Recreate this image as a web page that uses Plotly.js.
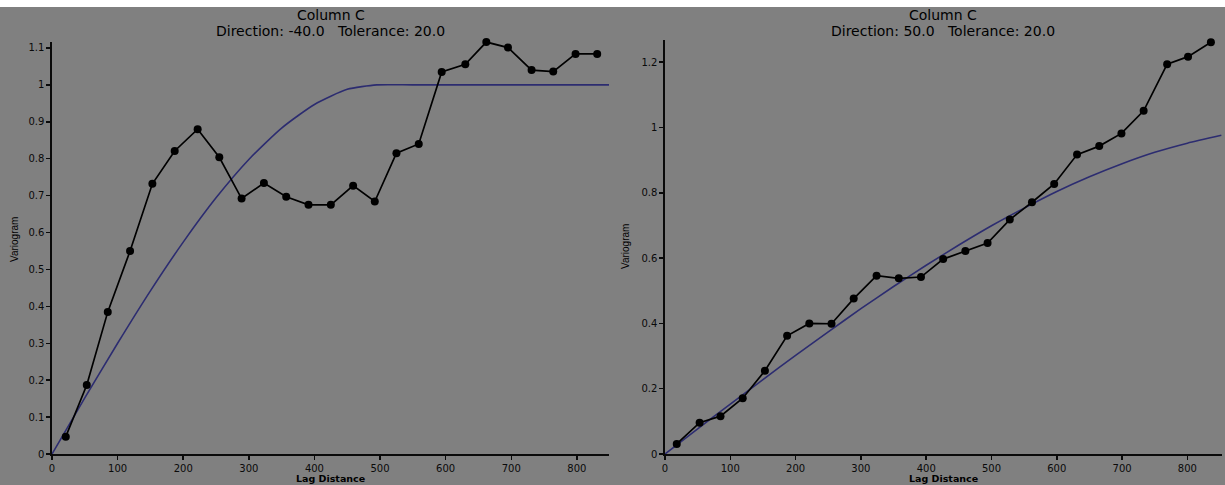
<!DOCTYPE html>
<html><head><meta charset="utf-8">
<script src="https://cdn.plot.ly/plotly-3.0.1.min.js"></script>
<style>
html,body{margin:0;padding:0;background:#ffffff;}
#chart{position:absolute;left:0;top:7px;width:1225px;height:478px;}
</style></head><body><div id="chart"></div>
<script>
// Experimental variogram, direction -40
const lagLeft   = [21, 53, 85, 119, 153, 187, 222, 255, 289, 323, 357, 391, 425, 459, 492, 525, 559, 594, 630, 662, 695, 731, 764, 798, 831];
const gammaLeft = [0.047, 0.187, 0.385, 0.550, 0.732, 0.821, 0.880, 0.804, 0.692, 0.734, 0.697, 0.675, 0.675, 0.727, 0.684, 0.815, 0.840, 1.035, 1.056, 1.116, 1.101, 1.040, 1.036, 1.084, 1.084];
// Experimental variogram, direction 50
const lagRight   = [18, 53, 85, 119, 153, 187, 221, 255, 289, 324, 358, 392, 426, 460, 494, 528, 562, 596, 631, 665, 699, 733, 769, 801, 836];
const gammaRight = [0.031, 0.096, 0.116, 0.171, 0.255, 0.362, 0.400, 0.399, 0.476, 0.546, 0.538, 0.542, 0.597, 0.622, 0.646, 0.718, 0.771, 0.827, 0.917, 0.943, 0.982, 1.051, 1.194, 1.217, 1.261];
// Fitted model curves
const modelLagLeft = [0, 50, 100, 150, 200, 250, 300, 350, 400, 450, 495, 550, 650, 750, 849];
const modelLeft    = [0, 0.152, 0.300, 0.442, 0.574, 0.694, 0.798, 0.883, 0.947, 0.988, 1.0, 1.0, 1.0, 1.0, 1.0];
const modelLagRight = [0, 50, 100, 150, 200, 250, 300, 350, 400, 450, 500, 550, 600, 650, 700, 750, 800, 852];
const modelRight    = [0, 0.077, 0.153, 0.228, 0.302, 0.374, 0.445, 0.513, 0.578, 0.640, 0.699, 0.753, 0.804, 0.849, 0.889, 0.924, 0.952, 0.976];

const panelTitle = 'Column C';
const subLeft  = 'Direction: -40.0&nbsp;&nbsp;&nbsp;Tolerance: 20.0';
const subRight = 'Direction: 50.0&nbsp;&nbsp;&nbsp;Tolerance: 20.0';
const xTitle = 'Lag Distance';
const yTitle = 'Variogram';

const GREY = '#808080';
const INK = '#0a0a0a';
const BLUE = '#2c2c70';

const expStyle = {mode:'lines+markers', line:{color:'#000', width:1.7}, marker:{color:'#000', size:8}, cliponaxis:false, hoverinfo:'skip'};
const modStyle = {mode:'lines', line:{color:BLUE, width:1.6, shape:'spline', smoothing:0.6}, cliponaxis:false, hoverinfo:'skip'};

const data = [
  Object.assign({x:modelLagLeft, y:modelLeft, xaxis:'x', yaxis:'y'}, modStyle),
  Object.assign({x:lagLeft, y:gammaLeft, xaxis:'x', yaxis:'y'}, expStyle),
  Object.assign({x:modelLagRight, y:modelRight, xaxis:'x2', yaxis:'y2'}, modStyle),
  Object.assign({x:lagRight, y:gammaRight, xaxis:'x2', yaxis:'y2'}, expStyle)
];

const W = 1225, H = 478;
const tickFont = {family:'DejaVu Sans, Arial, sans-serif', size:10, color:INK};
function ax(extra){
  return Object.assign({showline:true, linecolor:INK, linewidth:1.6, ticks:'outside', ticklen:4, tickwidth:1.5,
    tickcolor:INK, showgrid:false, zeroline:false, tickfont:tickFont, fixedrange:true, tick0:0}, extra);
}
const xL = [52/W, 609/W], xR = [665/W, 1222/W];
const yBottom = (H - 447)/H;

const titleFont = {family:'DejaVu Sans, Arial, sans-serif', size:14, color:'#000'};
const smallFont = {family:'DejaVu Sans, Arial, sans-serif', size:9.5, color:'#000'};
function ann(text, x, y, font, angle){
  return {text:text, x:x, y:y, xref:'paper', yref:'paper', xanchor:'center', yanchor:'middle',
    showarrow:false, font:font, textangle:angle||0};
}
const cL = (xL[0]+xL[1])/2, cR = (xR[0]+xR[1])/2;

const layout = {
  width:W, height:H, margin:{l:0, r:0, t:0, b:0},
  paper_bgcolor:GREY, plot_bgcolor:GREY, showlegend:false,
  xaxis: ax({domain:xL, range:[0,849], dtick:100, anchor:'y'}),
  yaxis: ax({domain:[yBottom, (H-34.7)/H], range:[0,1.117], dtick:0.1, anchor:'x'}),
  xaxis2: ax({domain:xR, range:[0,853], dtick:100, anchor:'y2'}),
  yaxis2: ax({domain:[yBottom, (H-33)/H], range:[0,1.268], dtick:0.2, anchor:'x2'}),
  annotations: [
    ann(panelTitle, cL, 1-7.5/H, titleFont),
    ann(subLeft, cL, 1-24/H, titleFont),
    ann(panelTitle, cR, 1-7.5/H, titleFont),
    ann(subRight, cR, 1-24/H, titleFont),
    ann('<b>'+xTitle+'</b>', cL, 1-471.5/H, smallFont),
    ann('<b>'+xTitle+'</b>', cR, 1-471.5/H, smallFont),
    ann(yTitle, 14/W, 1-233/H, {family:'Liberation Sans, Arial, sans-serif', size:10, color:'#000'}, -90),
    ann(yTitle, 625/W, 1-240/H, {family:'Liberation Sans, Arial, sans-serif', size:10, color:'#000'}, -90)
  ]
};

Plotly.newPlot('chart', data, layout, {displayModeBar:false, staticPlot:true});
</script></body></html>
